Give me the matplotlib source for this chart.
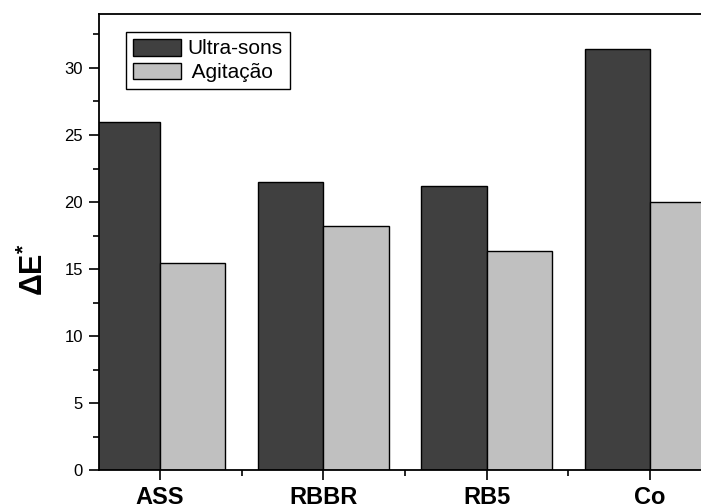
import numpy as np
import matplotlib
matplotlib.use("Agg")
import matplotlib.pyplot as plt
from matplotlib.ticker import MultipleLocator

categories = ["ASS", "RBBR", "RB5", "Co"]
ultra_sons = [25.97, 21.5, 21.2, 31.4]
agitacao = [15.42, 18.2, 16.37, 20.0]
series_names = ["Ultra-sons", " Agitação"]

plt.rcParams['font.family'] = ['Liberation Sans', 'DejaVu Sans']
plt.rcParams['mathtext.fontset'] = 'custom'
plt.rcParams['mathtext.rm'] = 'Liberation Sans'
plt.rcParams['mathtext.bf'] = 'Liberation Sans:bold'

fig = plt.figure(figsize=(7.01, 5.04), dpi=100)
ax = fig.add_axes([0.1412, 0.0669, 0.9024, 0.9048])

x = np.arange(len(categories))
w = 0.4
ax.bar(x - w / 2, ultra_sons, w, color="#404040", edgecolor="black", linewidth=1.0, label=series_names[0])
ax.bar(x + w / 2, agitacao, w, color="#c0c0c0", edgecolor="black", linewidth=1.0, label=series_names[1])

ax.set_xlim(-0.3735, 3.5)
ax.set_ylim(0, 34)
ax.set_xticks(x)
ax.set_xticklabels(categories, fontsize=17, fontweight="bold")
ax.xaxis.set_minor_locator(MultipleLocator(1, offset=0.5))
ax.yaxis.set_major_locator(MultipleLocator(5))
ax.yaxis.set_minor_locator(MultipleLocator(2.5))
ax.tick_params(axis="y", which="major", direction="out", length=7, width=1.2, labelsize=12, pad=4.5)
ax.tick_params(axis="y", which="minor", direction="out", length=4, width=1.2)
ax.tick_params(axis="x", which="major", direction="out", length=7, width=1.2, pad=4)
ax.tick_params(axis="x", which="minor", direction="out", length=4, width=1.2)

for s in ax.spines.values():
    s.set_linewidth(1.3)

ax.set_ylabel(r"$\mathbf{\Delta E}^{\mathbf{*}}$", fontsize=22)
ax.yaxis.set_label_coords(-0.078, 0.44)

leg = ax.legend(loc="upper left", bbox_to_anchor=(0.0422, 0.9618), borderaxespad=0,
                fontsize=15, fancybox=False, edgecolor="black", framealpha=1,
                handlelength=2.3, handleheight=0.85, handletextpad=0.3,
                borderpad=0.35, labelspacing=0.2)
leg.get_frame().set_linewidth(1.0)

fig.savefig("out.png", dpi=100)
